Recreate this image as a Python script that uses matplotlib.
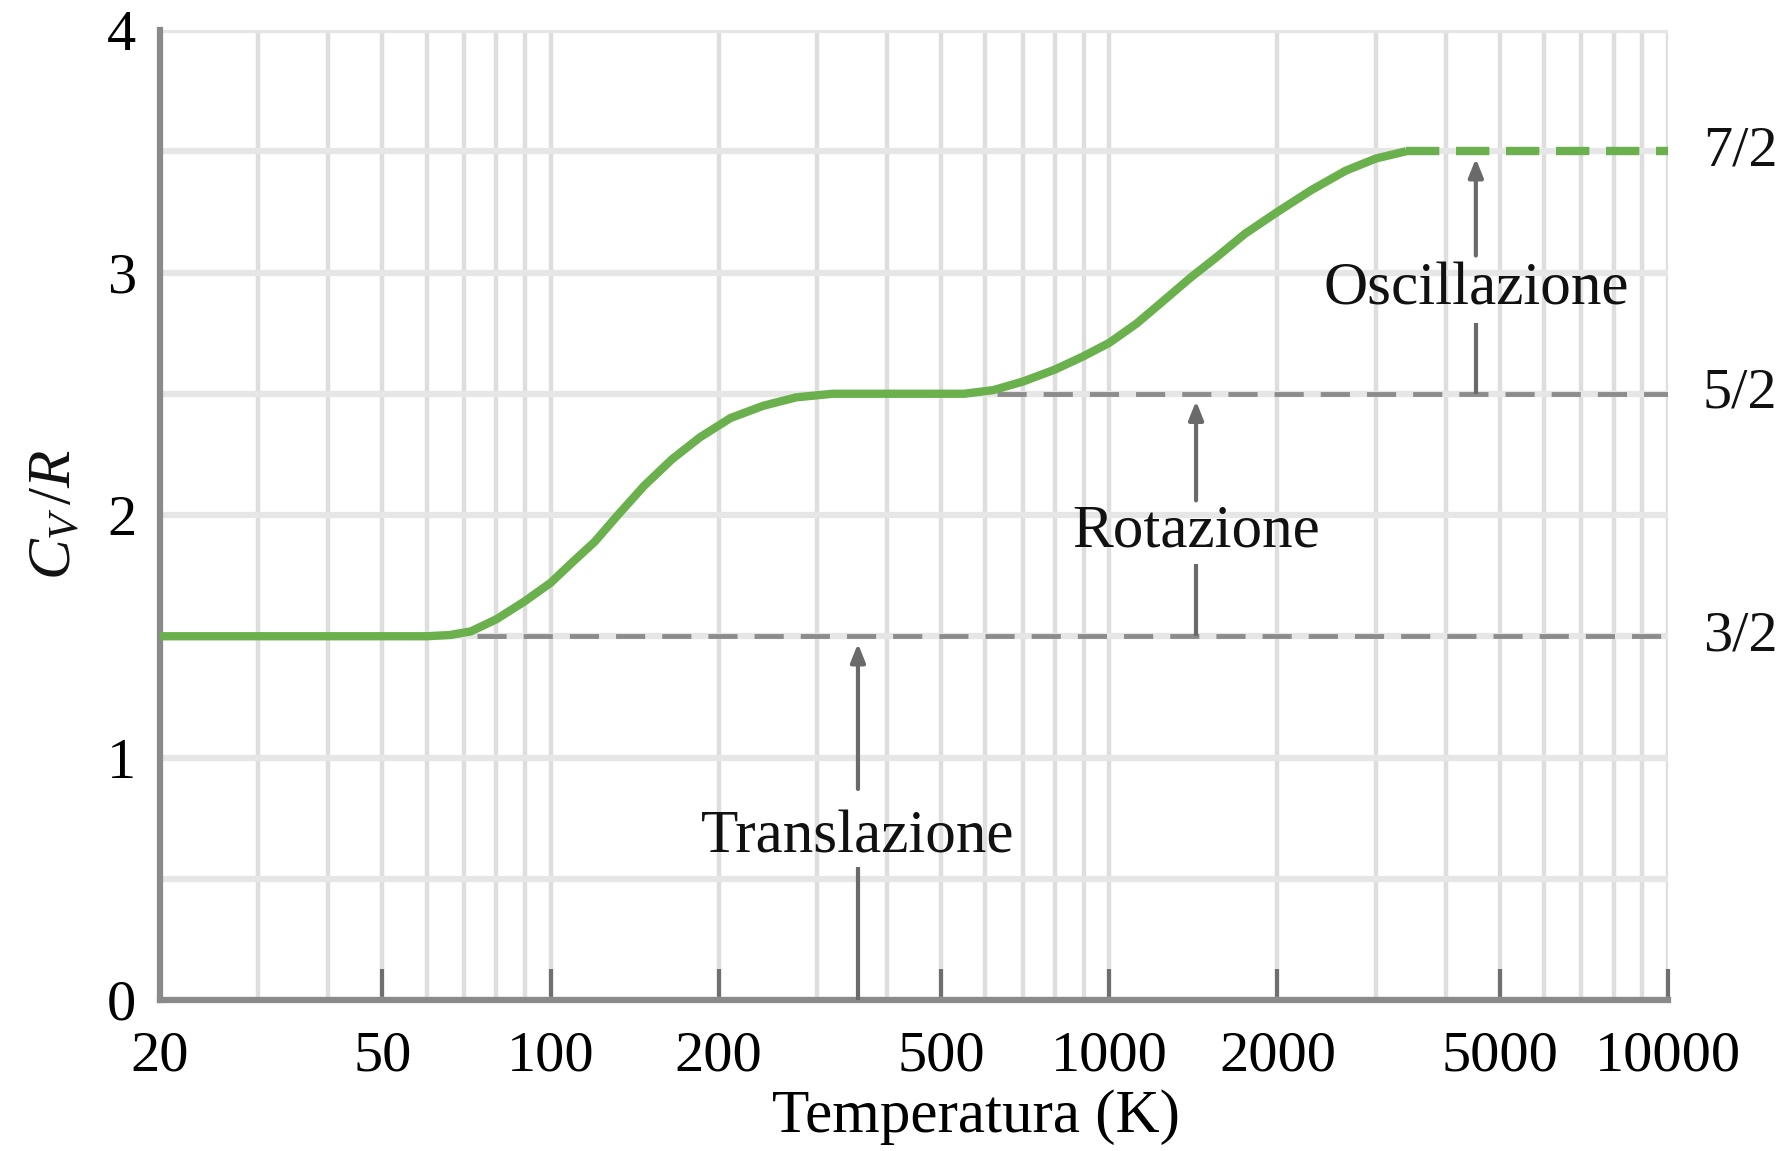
import matplotlib

matplotlib.use("Agg")
import matplotlib.pyplot as plt
from matplotlib.ticker import LogLocator, MultipleLocator, NullFormatter
from matplotlib.transforms import blended_transform_factory

# Heat capacity of a diatomic gas vs temperature
TEMP_K = [20, 40, 60, 66, 72, 80, 90, 100, 110, 120, 132, 147, 165, 185,
          210, 240, 275, 320, 400, 550, 620, 700, 800, 900, 1000, 1120, 1260,
          1400, 1550, 1750, 2000, 2300, 2650, 3000, 3400]
CV_R = [1.50, 1.50, 1.50, 1.505, 1.52, 1.57, 1.645, 1.72, 1.81, 1.89, 2.00,
        2.12, 2.23, 2.32, 2.40, 2.45, 2.485, 2.50, 2.50, 2.50, 2.515, 2.55,
        2.60, 2.655, 2.71, 2.79, 2.89, 2.98, 3.06, 3.16, 3.25, 3.34, 3.42,
        3.47, 3.50]
# extrapolated high-temperature part (dashed)
EXT_TEMP_K = [3400, 10000]
EXT_CV_R = [3.50, 3.50]

# classical levels and where their dashed guides start
LEVELS = [1.5, 2.5, 3.5]
LEVEL_LABELS = ["3/2", "5/2", "7/2"]
GUIDE_LEVELS = [1.5, 2.5]
GUIDE_START_K = [74, 630]

# arrows: x position, base, end of lower piece, text y, start of upper piece, tip
ARROW_LABELS = ["Translazione", "Rotazione", "Oscillazione"]
ARROW_X = [355, 1430, 4530]
ARROW_BASE = [0.0, 1.5, 2.5]
ARROW_LOW_END = [0.55, 1.80, 2.79]
ARROW_TEXT_Y = [0.67, 1.93, 2.93]
ARROW_UP_START = [0.87, 2.06, 3.07]
ARROW_TIP = [1.47, 2.47, 3.47]

XTICKS = [20, 50, 100, 200, 500, 1000, 2000, 5000, 10000]
XTICK_LABELS = ["20", "50", "100", "200", "500", "1000", "2000", "5000", "10000"]
YTICKS = [0, 1, 2, 3, 4]

GREEN = "#6ab04c"
GUIDE = "#8c8c8c"
ARROW = "#6a6a6a"

plt.rcParams.update(
    {
        "font.family": "Liberation Serif",
        "mathtext.fontset": "custom",
        "mathtext.rm": "Liberation Serif",
        "mathtext.it": "Liberation Serif:italic",
        "text.color": "#111111",
    }
)

fig = plt.figure(figsize=(17.91, 11.51), dpi=100)
ax = fig.add_axes([160 / 1791, 151 / 1151, 1508 / 1791, 970 / 1151])

ax.set_xscale("log")
ax.set_xlim(20, 10000)
ax.set_ylim(0, 4)

ax.set_xticks(XTICKS, XTICK_LABELS)
ax.xaxis.set_minor_locator(LogLocator(base=10, subs=range(1, 10), numticks=30))
ax.xaxis.set_minor_formatter(NullFormatter())
ax.set_yticks(YTICKS)
ax.yaxis.set_minor_locator(MultipleLocator(0.5))

ax.set_axisbelow(True)
ax.grid(True, which="both", axis="x", color="#dedede", linewidth=3.2)
ax.grid(True, which="both", axis="y", color="#e6e6e6", linewidth=4.5)

ax.tick_params(axis="x", which="major", direction="in", length=22, width=3,
               color="#6f6f6f", pad=22, labelsize=42)
ax.tick_params(axis="x", which="minor", length=0)
ax.tick_params(axis="y", which="both", length=0, pad=17, labelsize=42)

for side in ["top", "right"]:
    ax.spines[side].set_visible(False)
for side in ["left", "bottom"]:
    ax.spines[side].set_color("#8a8a8a")
    ax.spines[side].set_linewidth(4.5)

# dashed guides at the classical values
for lvl, start in zip(GUIDE_LEVELS, GUIDE_START_K):
    ax.plot([start, ax.get_xlim()[1]], [lvl, lvl], color=GUIDE, linewidth=3.5,
            linestyle=(0, (6, 3.5)), zorder=3)

# measured curve + dashed extrapolation
ax.plot(TEMP_K, CV_R, color=GREEN, linewidth=6, solid_capstyle="butt",
        solid_joinstyle="round", zorder=5)
ax.plot(EXT_TEMP_K, EXT_CV_R, color=GREEN, linewidth=6,
        linestyle=(0, (4.0, 2.0)), zorder=5)

# arrows with labels cutting through them
for i, label in enumerate(ARROW_LABELS):
    x = ARROW_X[i]
    ax.plot([x, x], [ARROW_BASE[i], ARROW_LOW_END[i]], color=ARROW,
            linewidth=3, solid_capstyle="butt", zorder=4)
    ax.annotate(
        "",
        xy=(x, ARROW_TIP[i]),
        xytext=(x, ARROW_UP_START[i]),
        arrowprops=dict(arrowstyle="-|>,head_length=0.55,head_width=0.22",
                        color=ARROW, linewidth=3, shrinkA=0, shrinkB=0,
                        mutation_scale=20),
        zorder=4,
    )
    ax.text(x, ARROW_TEXT_Y[i], label, ha="center", va="center", fontsize=44,
            zorder=6)

# level labels right of the axes
trans = blended_transform_factory(ax.transAxes, ax.transData)
for lvl, lab in zip(LEVELS, LEVEL_LABELS):
    ax.text(1.023, lvl, lab, transform=trans, ha="left", va="center",
            fontsize=42, clip_on=False)

ax.set_xlabel("Temperatura (K)", fontsize=44)
ax.xaxis.set_label_coords(0.541, -0.121)
ax.xaxis.label.set_va("center")

fig.text(55 / 1791, 1 - 515 / 1151, r"$C_V\,/R$", rotation=90,
         ha="center", va="center", fontsize=44)

fig.savefig("out.png", dpi=100)
